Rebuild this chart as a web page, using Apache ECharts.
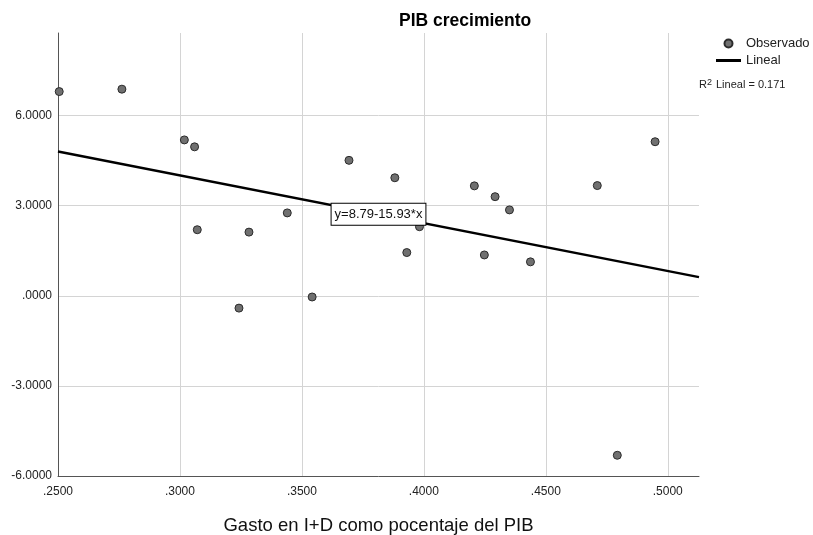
<!DOCTYPE html>
<html>
<head>
<meta charset="utf-8">
<title>PIB crecimiento</title>
<script src="https://cdn.jsdelivr.net/npm/echarts@6/dist/echarts.min.js"></script>
<style>
    html, body { margin: 0; padding: 0; background: #fff; }
    #chart { width: 813px; height: 535px; }
</style>
</head>
<body>
<div id="chart"></div>
<script>
var gastoID = [0.2505, 0.2762, 0.3018, 0.3060, 0.3071, 0.3283, 0.3440, 0.3242, 0.3542, 0.3693, 0.3881,
    0.3982, 0.3930, 0.4207, 0.4292, 0.4351, 0.4248, 0.4437, 0.4711, 0.4948, 0.4793];
var pibCrec = [6.80, 6.88, 5.19, 4.96, 2.20, 2.12, 2.76, -0.41, -0.04, 4.51, 3.93,
    2.30, 1.44, 3.66, 3.30, 2.86, 1.36, 1.13, 3.67, 5.13, -5.31];

// ajuste lineal
var intercept = 8.79;
var slope = -15.93;
var r2 = '0.171';

// ejes
var xRange = [0.25, 0.5128];
var yRange = [-6, 8.75];

var font = "'Liberation Sans', Arial, sans-serif";

function fmt(v) {
    var s = v.toFixed(4);
    return s.replace(/^(-?)0\./, '$1.');
}

(function() {
    var app = echarts.init(document.getElementById('chart'));

    var points = gastoID.map(function(x, i) { return [x, pibCrec[i]]; });
    var fit = xRange.map(function(x) { return [x, intercept + slope * x]; });
    var midX = (xRange[0] + xRange[1]) / 2;

    var option = {
        animation: false,
        backgroundColor: '#fff',
        textStyle: { fontFamily: font },
        title: {
            text: 'PIB crecimiento',
            left: 394,
            top: 7,
            textStyle: { fontSize: 17.5, fontWeight: 'bold', color: '#000', fontFamily: font }
        },
        legend: {
            orient: 'vertical',
            left: 716,
            top: 37,
            padding: 0,
            itemWidth: 25,
            itemHeight: 8,
            itemGap: 4,
            textStyle: { fontSize: 13, color: '#222', fontFamily: font },
            data: [
                { name: 'Observado' },
                { name: 'Lineal', icon: 'path://M0,0 L25,0 L25,3 L0,3 Z', itemStyle: { color: '#000' } }
            ]
        },
        graphic: [{
            type: 'text',
            left: 699,
            top: 78,
            style: {
                text: '{a|R}{s|2}{a| Lineal = ' + r2 + '}',
                rich: {
                    a: { fontSize: 11, fontFamily: font, fill: '#222', lineHeight: 14 },
                    s: { fontSize: 9, fontFamily: font, fill: '#222', verticalAlign: 'top', lineHeight: 14, padding: [0, 1, 0, 0] }
                }
            }
        }],
        grid: {
            left: 58,
            right: 114,
            top: 33,
            bottom: 59,
            outerBoundsMode: 'none'
        },
        xAxis: {
            type: 'value',
            min: xRange[0],
            max: xRange[1],
            interval: 0.05,
            name: 'Gasto en I+D como pocentaje del PIB',
            nameLocation: 'middle',
            nameGap: 40,
            nameTextStyle: { fontSize: 18.5, color: '#111', fontFamily: font },
            axisLine: { onZero: false, lineStyle: { color: '#555', width: 1 } },
            axisTick: { show: false },
            axisLabel: {
                formatter: fmt,
                showMaxLabel: false,
                fontSize: 12,
                color: '#222',
                margin: 10
            },
            splitLine: { show: true, showMaxLine: false, lineStyle: { color: '#d4d4d4', width: 1 } }
        },
        yAxis: {
            type: 'value',
            min: yRange[0],
            max: yRange[1],
            interval: 3,
            axisLine: { show: true, onZero: false, lineStyle: { color: '#555', width: 1 } },
            axisTick: { show: false },
            axisLabel: {
                formatter: fmt,
                showMaxLabel: false,
                fontSize: 12,
                color: '#222',
                margin: 6
            },
            splitLine: { show: true, showMaxLine: false, lineStyle: { color: '#d4d4d4', width: 1 } }
        },
        series: [{
            name: 'Observado',
            type: 'scatter',
            symbolSize: 8,
            itemStyle: { color: '#707070', borderColor: '#2b2b2b', borderWidth: 1, opacity: 1 },
            data: points,
            z: 2
        }, {
            name: 'Lineal',
            type: 'line',
            symbol: 'none',
            lineStyle: { color: '#000', width: 2.5 },
            itemStyle: { color: '#000' },
            data: fit,
            z: 3,
            markPoint: {
                symbol: 'rect',
                symbolSize: 1,
                itemStyle: { color: 'rgba(0,0,0,0)' },
                label: {
                    show: true,
                    position: 'inside',
                    formatter: 'y=' + intercept + '' + slope + '*x',
                    fontSize: 13,
                    color: '#111',
                    fontFamily: font,
                    backgroundColor: '#fff',
                    borderColor: '#000',
                    borderWidth: 1,
                    padding: [4, 3, 4, 3]
                },
                data: [{ coord: [midX, intercept + slope * midX] }]
            }
        }]
    };

    app.setOption(option);
})();
</script>
</body>
</html>
